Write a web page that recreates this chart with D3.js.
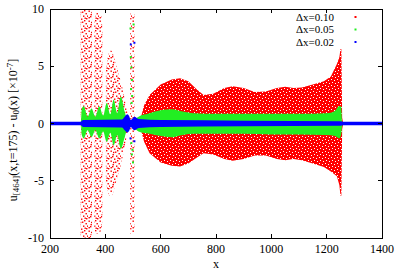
<!DOCTYPE html>
<html>
<head>
<meta charset="utf-8">
<style>
  body { margin: 0; background: #fff; }
  svg text { font-family: "Liberation Serif", "DejaVu Serif", serif; font-size: 12px; fill: #000; }
  svg text.leg { font-size: 11px; }
</style>
<script src="https://d3js.org/d3.v7.min.js"></script>
</head>
<body>
<div id="chart"></div>
<script>
// envelopes: x, upper, lower (units of 1e-7)
const redFan1X  = [311, 316, 330, 345, 352];
const redFan1Hi = [9.8, 10, 10, 10, 9.6];
const redFan1Lo = [-9.8, -10, -10, -10, -9.5];

const redFan2X  = [360, 366, 376, 385, 389];
const redFan2Hi = [9.0, 9.6, 9.7, 9.4, 8.5];
const redFan2Lo = [-9.0, -9.6, -9.6, -9.3, -8.5];

const redLobeX  = [402, 410, 420, 440, 460, 478, 486];
const redLobeHi = [4.8, 5.9, 6.4, 5.0, 3.3, 1.2, 0.1];
const redLobeLo = [-5.2, -6.0, -6.4, -5.0, -3.2, -1.1, -0.1];

const redColX  = [490, 497, 505];
const redColHi = [9.6, 9.6, 9.6];
const redColLo = [-9.6, -9.6, -9.6];

const redMainX  = [523, 540, 560, 600, 640, 670, 700, 730, 755, 790, 830, 860, 900, 940, 980, 1020, 1050, 1080, 1110, 1150, 1190, 1215, 1237, 1246, 1250, 1253, 1256, 1260];
const redMainHi = [0, 1.6, 2.5, 3.4, 3.85, 3.95, 3.7, 3.0, 2.5, 2.6, 3.1, 3.25, 3.1, 2.75, 2.8, 3.1, 3.2, 3.1, 3.15, 3.4, 3.7, 4.1, 5.2, 5.8, 6.5, 6.5, 0.5, 0];
const redMainLo = [0, -1.6, -2.6, -3.4, -3.7, -3.75, -3.5, -3.0, -2.6, -2.7, -3.1, -3.25, -3.1, -2.8, -2.8, -3.1, -3.2, -3.1, -3.2, -3.5, -3.8, -4.2, -4.6, -5.4, -6.3, -6.3, -0.5, 0];

const greenLeftX  = [312, 315, 322, 336, 350, 364, 378, 392, 405, 418, 430, 443, 456, 470, 480, 486];
const greenLeftHi = [0, 1.3, 1.5, 0.6, 1.3, 0.6, 1.5, 0.7, 1.8, 0.8, 2.1, 0.9, 2.35, 1.0, 0.3, 0.1];
const greenLeftLo = [0, -1.0, -1.3, -0.6, -1.2, -0.6, -1.3, -0.7, -1.6, -0.8, -1.9, -1.0, -2.2, -1.2, -0.4, -0.1];

const greenMainX  = [503, 520, 560, 600, 640, 680, 720, 800, 900, 1000, 1100, 1200, 1230, 1245, 1252, 1256, 1260];
const greenMainHi = [0.3, 0.6, 0.9, 1.15, 1.25, 1.05, 0.9, 0.85, 0.85, 0.85, 0.85, 0.9, 1.1, 1.5, 1.5, 0.2, 0];
const greenMainLo = [-0.3, -0.7, -0.9, -1.1, -1.2, -1.0, -0.9, -0.9, -0.9, -0.95, -0.95, -1.0, -1.1, -1.3, -1.0, -0.2, 0];

const greenDotX = [502, 492, 494, 496, 493, 497, 495, 494, 498, 496, 500, 491];
const greenDotY = [8.65, 5.8, 4.9, 3.8, 3.0, 2.4, 1.8, -1.7, -2.3, -2.7, -3.4, 8.3];

const blueX  = [200, 310, 320, 460, 470, 480, 487, 492, 500, 505, 520, 600, 900, 1250, 1260, 1400];
const blueHi = [0.15, 0.15, 0.3, 0.35, 0.6, 0.8, 0.6, 0.3, 0.5, 0.6, 0.4, 0.3, 0.25, 0.2, 0.15, 0.15];
const blueLo = [-0.15, -0.15, -0.3, -0.35, -0.6, -0.8, -0.6, -0.3, -0.5, -0.6, -0.4, -0.3, -0.25, -0.2, -0.15, -0.15];

const blueDotX = [492, 505, 505, 491];
const blueDotY = [6.9, 7.05, -1.55, -1.3];

const xTicks = [200, 400, 600, 800, 1000, 1200, 1400];
const yTicks = [-10, -5, 0, 5, 10];
const legendLabels = ["\u0394x=0.10", "\u0394x=0.05", "\u0394x=0.02"];
const colors = ["#ff0000", "#22ee22", "#0000ff"];

const W = 415, H = 275;
const pL = 50, pR = 382, pT = 9, pB = 238;

const x = d3.scaleLinear().domain([200, 1400]).range([pL, pR]);
const y = d3.scaleLinear().domain([-10, 10]).range([pB, pT]);

const svg = d3.select("#chart").append("svg").attr("width", W).attr("height", H);
const defs = svg.append("defs");

defs.append("clipPath").attr("id", "plot")
  .append("rect").attr("x", pL).attr("y", pT).attr("width", pR - pL).attr("height", pB - pT);

// sparse red dots (scattered points of the coarse run)
const sparse = defs.append("pattern").attr("id", "redSparse")
  .attr("patternUnits", "userSpaceOnUse").attr("width", 11).attr("height", 10);
[[0.5, 0.5], [5, 1.5], [8.5, 3], [2.5, 4], [6, 5.5], [0.5, 7], [9, 8], [4, 8.5], [7, 0],
 [3, 1.8], [10, 5.5], [7.5, 7.5], [2, 6]].forEach(p =>
  sparse.append("rect").attr("x", p[0]).attr("y", p[1]).attr("width", 1.4).attr("height", 1.4).attr("fill", "#ff0000"));

// dense red with white holes
const dense = defs.append("pattern").attr("id", "redDense")
  .attr("patternUnits", "userSpaceOnUse").attr("width", 6).attr("height", 6);
dense.append("rect").attr("width", 6).attr("height", 6).attr("fill", "#ff0000");
[[1, 1], [4, 2], [2, 4], [5, 5]].forEach(p =>
  dense.append("rect").attr("x", p[0]).attr("y", p[1]).attr("width", 1).attr("height", 1).attr("fill", "#ffffff"));

const area = d3.area().x(d => x(d[0])).y0(d => y(d[2])).y1(d => y(d[1])).curve(d3.curveMonotoneX);
const areaLin = d3.area().x(d => x(d[0])).y0(d => y(d[2])).y1(d => y(d[1]));
const zip = (xs, hi, lo) => xs.map((v, i) => [v, hi[i], lo[i]]);

const g = svg.append("g").attr("clip-path", "url(#plot)");

[[redFan1X, redFan1Hi, redFan1Lo], [redFan2X, redFan2Hi, redFan2Lo],
 [redLobeX, redLobeHi, redLobeLo], [redColX, redColHi, redColLo]].forEach(s =>
  g.append("path").attr("d", area(zip(...s))).attr("fill", "url(#redSparse)"));

g.append("path").attr("d", areaLin(zip(redMainX, redMainHi, redMainLo))).attr("fill", "url(#redDense)");

g.append("path").attr("d", area(zip(greenLeftX, greenLeftHi, greenLeftLo))).attr("fill", colors[1]);
g.append("path").attr("d", area(zip(greenMainX, greenMainHi, greenMainLo))).attr("fill", colors[1]);
g.selectAll(".gdot").data(greenDotX.map((v, i) => [v, greenDotY[i]])).enter()
  .append("rect").attr("x", d => x(d[0]) - 1).attr("y", d => y(d[1]) - 1)
  .attr("width", 2).attr("height", 2).attr("fill", colors[1]);

g.append("path").attr("d", area(zip(blueX, blueHi, blueLo))).attr("fill", colors[2]);
g.selectAll(".bdot").data(blueDotX.map((v, i) => [v, blueDotY[i]])).enter()
  .append("rect").attr("x", d => x(d[0]) - 1).attr("y", d => y(d[1]) - 1)
  .attr("width", 2).attr("height", 2).attr("fill", colors[2]);

// frame and mirrored inward ticks
const tl = 4;
const axes = svg.append("g").attr("stroke", "#000").attr("stroke-width", 1).attr("shape-rendering", "crispEdges");
axes.append("rect").attr("x", pL).attr("y", pT).attr("width", pR - pL).attr("height", pB - pT).attr("fill", "none");
xTicks.forEach(t => {
  axes.append("line").attr("x1", x(t)).attr("x2", x(t)).attr("y1", pB).attr("y2", pB - tl);
  axes.append("line").attr("x1", x(t)).attr("x2", x(t)).attr("y1", pT).attr("y2", pT + tl);
});
yTicks.forEach(t => {
  axes.append("line").attr("x1", pL).attr("x2", pL + tl).attr("y1", y(t)).attr("y2", y(t));
  axes.append("line").attr("x1", pR).attr("x2", pR - tl).attr("y1", y(t)).attr("y2", y(t));
});

svg.selectAll(".xl").data(xTicks).enter().append("text")
  .attr("x", d => x(d)).attr("y", pB + 15).attr("text-anchor", "middle").text(d => d);
svg.selectAll(".yl").data(yTicks).enter().append("text")
  .attr("x", pL - 6).attr("y", d => y(d) + 4).attr("text-anchor", "end").text(d => d);

svg.append("text").attr("x", (pL + pR) / 2).attr("y", 268).attr("text-anchor", "middle").text("x");

const yt = svg.append("text").attr("transform", "translate(17,130) rotate(-90)").attr("text-anchor", "middle");
yt.append("tspan").text("u");
yt.append("tspan").attr("baseline-shift", "-25%").attr("font-size", "9px").text("[464]");
yt.append("tspan").text("(x,t=175) - u");
yt.append("tspan").attr("baseline-shift", "-25%").attr("font-size", "9px").text("0");
yt.append("tspan").text("(x) [\u00d710");
yt.append("tspan").attr("baseline-shift", "40%").attr("font-size", "9px").text("-7");
yt.append("tspan").text("]");

// legend
legendLabels.forEach((lab, i) => {
  const ly = 17 + i * 12.5;
  svg.append("text").attr("class", "leg").attr("x", 334).attr("y", ly + 3.5).attr("text-anchor", "end").text(lab);
  svg.append("rect").attr("x", 354.5).attr("y", ly - 1).attr("width", 2).attr("height", 2).attr("fill", colors[i]);
});
</script>
</body>
</html>
